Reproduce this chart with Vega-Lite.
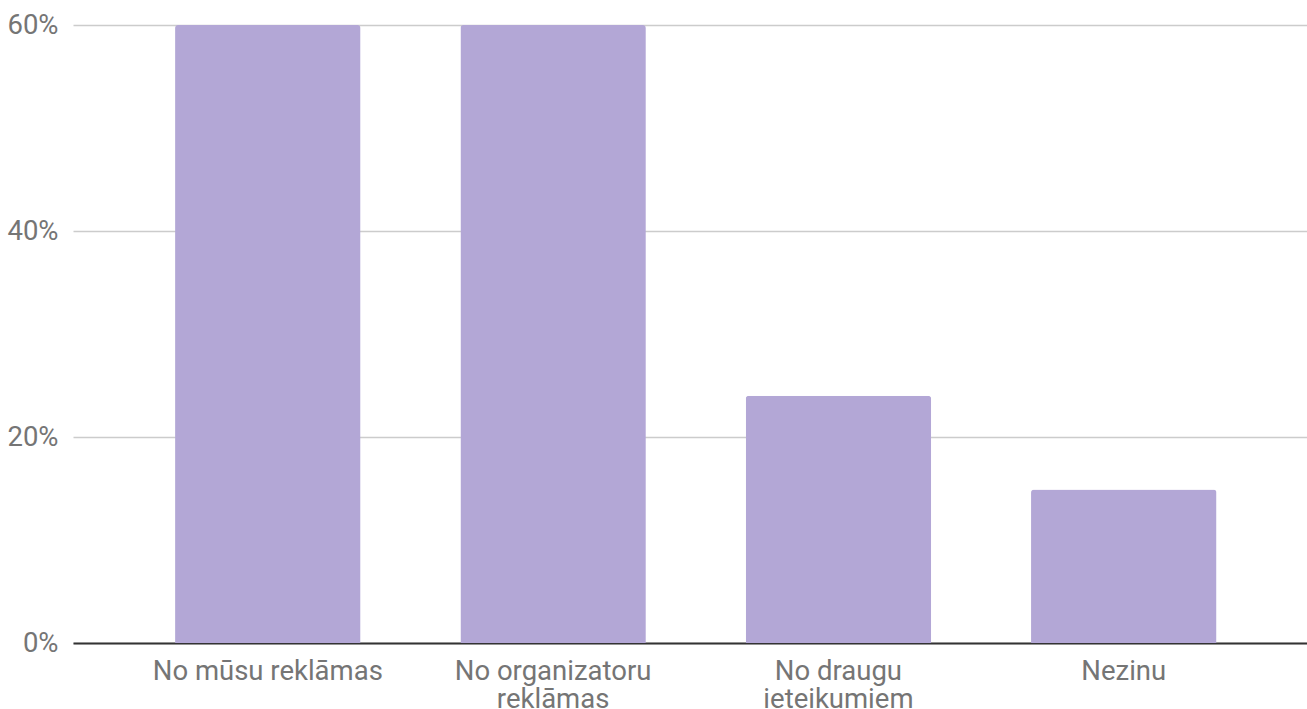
{
  "$schema": "https://vega.github.io/schema/vega-lite/v6.json",
  "width": 1234,
  "height": 618,
  "autosize": {"type": "none"},
  "padding": {"left": 73, "top": 25, "right": 0, "bottom": 66},
  "background": "white",
  "data": {
    "values": [
      {"label": "No mūsu reklāmas", "value": 0.60},
      {"label": "No organizatoru reklāmas", "value": 0.60},
      {"label": "No draugu ieteikumiem", "value": 0.24},
      {"label": "Nezinu", "value": 0.149}
    ]
  },
  "config": {
    "view": {"stroke": null},
    "font": "Roboto"
  },
  "mark": {"type": "bar", "color": "#b3a7d6", "cornerRadiusTopLeft": 3, "cornerRadiusTopRight": 3},
  "encoding": {
    "x": {
      "field": "label",
      "type": "nominal",
      "sort": null,
      "scale": {"paddingInner": 0.35, "paddingOuter": 0.3375, "align": 0.53},
      "axis": {
        "title": null,
        "labelAngle": 0,
        "labelFont": "Roboto",
        "labelFontSize": 27.5,
        "labelColor": "#757575",
        "labelPadding": 14,
        "labelLineHeight": 28,
        "labelBaseline": "top",
        "labelLimit": 500,
        "ticks": false,
        "domainColor": "#333333",
        "domainWidth": 2,
        "labelExpr": "datum.value == 'No organizatoru reklāmas' ? ['No organizatoru', 'reklāmas'] : datum.value == 'No draugu ieteikumiem' ? ['No draugu', 'ieteikumiem'] : datum.value"
      }
    },
    "y": {
      "field": "value",
      "type": "quantitative",
      "scale": {"domain": [0, 0.6], "nice": false},
      "axis": {
        "title": null,
        "format": ".0%",
        "values": [0, 0.2, 0.4, 0.6],
        "domain": false,
        "ticks": false,
        "gridColor": "#cccccc",
        "gridWidth": 1.5,
        "labelFont": "Roboto",
        "labelFontSize": 27.5,
        "labelColor": "#757575",
        "labelPadding": 15
      }
    }
  }
}
